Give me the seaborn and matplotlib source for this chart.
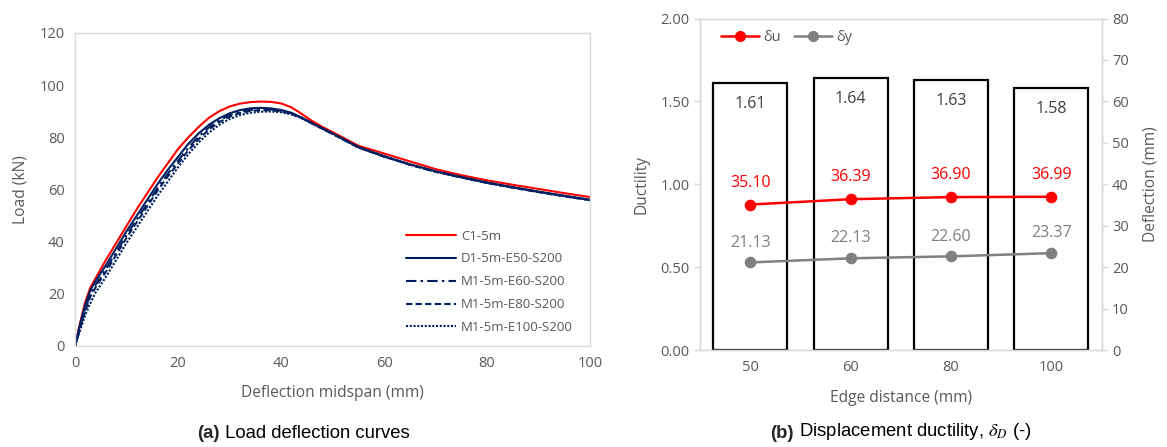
import numpy as np
import pandas as pd
import matplotlib
matplotlib.use("Agg")
import matplotlib.pyplot as plt
import seaborn as sns
from matplotlib.lines import Line2D
from matplotlib.ticker import MultipleLocator, FixedLocator, FormatStrFormatter

# ---------------- data ----------------
# (a) load-deflection curves
deflection = [0, 1, 2, 3, 4, 5, 6, 8, 10, 12, 14, 16, 18, 20, 22, 24, 26, 28, 30, 32,
              34, 36, 38, 40, 42, 44, 46, 48, 50, 55, 60, 65, 70, 75, 80, 85, 90, 95, 100]
load_c1 = [0, 9, 17, 22.5, 26, 29.5, 33, 39.5, 46, 52.5, 58.5, 64.5, 70, 75.5, 80, 84, 87.5,
           90, 91.8, 92.9, 93.5, 93.7, 93.6, 93, 91.5, 89, 86.3, 84, 82, 76.8, 73.8, 70.8,
           67.8, 65.5, 63.5, 61.8, 60.2, 58.6, 57.1]
load_d1_e50 = [0, 8.5, 16, 21.5, 25, 28, 31, 37.5, 44, 50, 56, 62, 67.5, 72.5, 77.5, 81.5,
               84.8, 87.3, 89.2, 90.4, 91.1, 91.3, 91.1, 90.5, 89.4, 87.6, 85.5, 83.5, 81.5,
               76.3, 72.8, 69.7, 67, 64.8, 62.7, 60.9, 59.2, 57.6, 56.1]
load_m1_e60 = [0, 7.5, 14.5, 20, 23.5, 26.5, 29.5, 36, 42.5, 48.5, 54.5, 60.5, 66, 71, 76,
               80.3, 83.8, 86.5, 88.5, 89.8, 90.5, 90.8, 90.7, 90.2, 89.2, 87.5, 85.4, 83.4,
               81.4, 76.2, 72.7, 69.6, 66.9, 64.7, 62.6, 60.8, 59.1, 57.5, 56.0]
load_m1_e80 = [0, 7, 13.5, 19, 22.5, 25.5, 28.5, 35, 41.5, 47.5, 53.5, 59.5, 65, 70, 75, 79.3,
               83, 85.8, 87.9, 89.3, 90.1, 90.4, 90.4, 90, 89, 87.4, 85.3, 83.3, 81.3, 76.1,
               72.6, 69.5, 66.8, 64.6, 62.5, 60.7, 59.0, 57.4, 55.9]
load_m1_e100 = [0, 6, 12, 16.5, 20.5, 23.5, 26.5, 33, 39.5, 45.5, 51.5, 57.5, 63, 68.5, 73.5,
                78, 81.8, 84.8, 87, 88.5, 89.4, 89.8, 89.9, 89.6, 88.8, 87.3, 85.3, 83.3,
                81.3, 76.1, 72.6, 69.5, 66.8, 64.6, 62.5, 60.7, 59.0, 57.4, 55.9]
specimens = ["C1-5m", "D1-5m-E50-S200", "M1-5m-E60-S200", "M1-5m-E80-S200", "M1-5m-E100-S200"]
curves = [load_c1, load_d1_e50, load_m1_e60, load_m1_e80, load_m1_e100]

# (b) displacement ductility
edge_distance = ["50", "60", "80", "100"]
ductility = [1.61, 1.64, 1.63, 1.58]
delta_u = [35.10, 36.39, 36.90, 36.99]
delta_y = [21.13, 22.13, 22.60, 23.37]

# ---------------- style ----------------
sns.set_theme(style="white")
plt.rcParams["font.family"] = ["Open Sans", "DejaVu Sans"]
plt.rcParams["mathtext.fontset"] = "stix"

TXT = "#595959"
SPINE = "#D9D9D9"
NAVY = "#002060"
RED = "#FF0000"
GREY = "#808080"
TICK_FS = 10.5
LABEL_FS = 11.2

fig = plt.figure(figsize=(11.67, 4.47), dpi=100)
fig.patch.set_facecolor("white")


def style_axes(ax):
    for s in ax.spines.values():
        s.set_color(SPINE)
        s.set_linewidth(1.0)
    ax.tick_params(which="both", colors=SPINE, labelcolor=TXT, labelsize=TICK_FS,
                   direction="out", length=4, width=1.0)


# ---------------- (a) load-deflection ----------------
axl = fig.add_axes([0.0643, 0.226, 0.4413, 0.7002])
long = pd.DataFrame({
    "Deflection": np.tile(deflection, len(specimens)),
    "Load": np.concatenate(curves),
    "Specimen": np.repeat(specimens, len(deflection)),
})
palette = {"C1-5m": RED, "D1-5m-E50-S200": NAVY, "M1-5m-E60-S200": NAVY,
           "M1-5m-E80-S200": NAVY, "M1-5m-E100-S200": NAVY}
dashes = {"C1-5m": "", "D1-5m-E50-S200": "", "M1-5m-E60-S200": (5, 2, 1.2, 2),
          "M1-5m-E80-S200": (3, 1.6), "M1-5m-E100-S200": (1, 0.8)}
sns.lineplot(data=long, x="Deflection", y="Load", hue="Specimen", style="Specimen",
             palette=palette, dashes=dashes, hue_order=specimens, style_order=specimens,
             estimator=None, sort=False, linewidth=1.5, ax=axl)
axl.set_xlim(0, 100)
axl.set_ylim(0, 120)
axl.xaxis.set_major_locator(MultipleLocator(20))
axl.xaxis.set_minor_locator(MultipleLocator(4))
axl.yaxis.set_major_locator(MultipleLocator(20))
axl.yaxis.set_minor_locator(MultipleLocator(4))
style_axes(axl)
axl.tick_params(axis="x", pad=3)
axl.set_xlabel("Deflection midspan (mm)", color=TXT, fontsize=LABEL_FS, labelpad=10)
axl.set_ylabel("Load (kN)", color=TXT, fontsize=LABEL_FS, labelpad=8)
handles, labels = axl.get_legend_handles_labels()
keep = [(h, l) for h, l in zip(handles, labels) if l in specimens]
axl.legend([h for h, _ in keep], [l for _, l in keep], loc="lower right",
           bbox_to_anchor=(0.99, 0.0), frameon=False, fontsize=9.5, labelcolor=TXT,
           handlelength=3.8, handletextpad=0.4, labelspacing=0.75)

# ---------------- (b) ductility ----------------
axr = fig.add_axes([0.5998, 0.217, 0.3442, 0.7416])
sns.barplot(x=edge_distance, y=ductility, order=edge_distance, color="white",
            edgecolor="black", linewidth=1.6, width=0.736, saturation=1, ax=axr)
axr.set_ylim(0, 2)
axr.yaxis.set_major_locator(MultipleLocator(0.5))
axr.yaxis.set_major_formatter(FormatStrFormatter("%.2f"))
axr.bar_label(axr.containers[0], fmt="%.2f", padding=-21, color="#404040", fontsize=11.5)

ax2 = axr.twinx()
sns.pointplot(x=edge_distance, y=delta_u, order=edge_distance, color=RED, markers="o",
              markersize=7, linewidth=1.8, errorbar=None, ax=ax2)
sns.pointplot(x=edge_distance, y=delta_y, order=edge_distance, color=GREY, markers="o",
              markersize=7, linewidth=1.8, errorbar=None, ax=ax2)
ax2.set_ylim(0, 80)
ax2.yaxis.set_major_locator(MultipleLocator(10))
for i, (u, y) in enumerate(zip(delta_u, delta_y)):
    ax2.annotate(f"{u:.2f}", (i, u), xytext=(0, 10), textcoords="offset points",
                 ha="center", va="bottom", color=RED, fontsize=11.5)
    ax2.annotate(f"{y:.2f}", (i, y), xytext=(0, 8.5), textcoords="offset points",
                 ha="center", va="bottom", color=GREY, fontsize=11.5)

for a in (axr, ax2):
    a.set_xlim(-0.5, len(edge_distance) - 0.5)
    style_axes(a)
axr.xaxis.set_major_locator(FixedLocator(range(len(edge_distance))))
axr.set_xticklabels(edge_distance)
axr.xaxis.set_minor_locator(MultipleLocator(1, offset=0.5))
axr.tick_params(axis="x", which="major", length=4, pad=3)
axr.tick_params(axis="x", which="minor", length=5)
axr.set_xlabel("Edge distance (mm)", color=TXT, fontsize=LABEL_FS, labelpad=11)
axr.set_ylabel("Ductility", color=TXT, fontsize=LABEL_FS, labelpad=8)
ax2.set_ylabel("Deflection (mm)", color=TXT, fontsize=LABEL_FS, labelpad=10)
ax2.set_xlabel("")

leg_handles = [Line2D([], [], color=RED, marker="o", markersize=7, linewidth=1.8),
               Line2D([], [], color=GREY, marker="o", markersize=7, linewidth=1.8)]
ax2.legend(leg_handles, ["δu", "δy"], loc="upper left", bbox_to_anchor=(0.02, 1.005),
           ncol=2, frameon=False, fontsize=10.5, labelcolor=TXT, handlelength=2.6,
           handletextpad=0.3, columnspacing=0.9)

# ---------------- captions ----------------
CAP_FS = 13.3
cap_a = fig.text(0.169, 0.031, "(a)", fontsize=CAP_FS, fontweight="bold",
                 family="Liberation Sans", va="center")
cap_b = fig.text(0.66, 0.031, "(b)", fontsize=CAP_FS, fontweight="bold",
                 family="Liberation Sans", va="center")
axl.annotate(" Load deflection curves", xy=(1, 0), xycoords=cap_a, va="bottom",
             fontsize=CAP_FS, family="Liberation Sans", color="black",
             annotation_clip=False)
axr.annotate(r" Displacement ductility, $\delta_D$ (-)", xy=(1, 0), xycoords=cap_b,
             va="bottom", fontsize=CAP_FS, family="Liberation Sans", color="black",
             annotation_clip=False)

fig.savefig("out.png", dpi=100, facecolor="white")
